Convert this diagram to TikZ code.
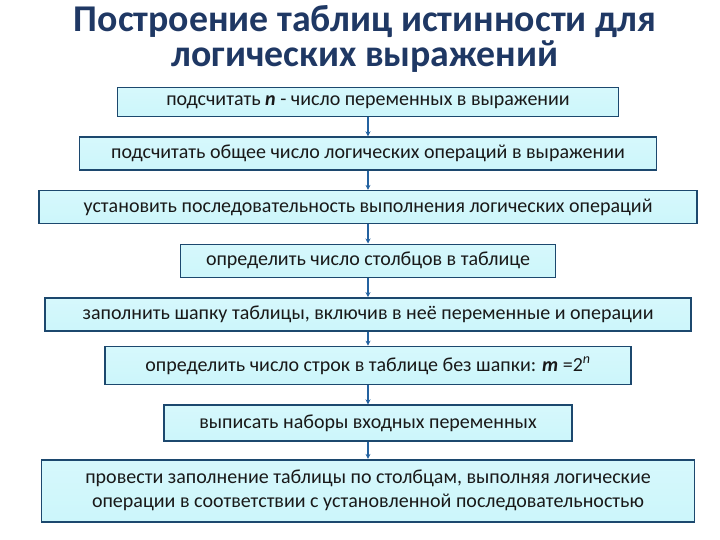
\documentclass[tikz,border=0pt]{standalone}
\usepackage{fontspec}
\setmainfont{Carlito}
\usepackage{tikz}
\usetikzlibrary{arrows.meta, positioning}

\definecolor{titleblue}{RGB}{31,56,100}
\definecolor{boxfill}{RGB}{204,246,251}
\definecolor{boxline}{RGB}{28,72,110}
\definecolor{arrowblue}{RGB}{36,98,160}

\begin{document}
\begin{tikzpicture}[
    node distance=19pt,
    block/.style={rectangle, draw=boxline, line width=1.6pt, top color=boxfill!80, bottom color=boxfill, text=black!90, font=\fontsize{20}{24}\selectfont, minimum height=33pt, inner xsep=2pt},
    arrow/.style={-{Stealth[length=5pt, width=5pt]}, line width=1.6pt, arrowblue}
]
\useasboundingbox (0,0) rectangle (720pt,-540pt);

% Title
\node[text=titleblue, font=\bfseries\fontsize{37.8}{35}\selectfont, align=center] (title) at (365pt,-39pt) {Построение таблиц истинности для\\логических выражений};

% Steps
\node[block, minimum width=501pt, minimum height=29pt] (s1) at (368pt,-102pt) {подсчитать \textbf{\textit{n}} - число переменных в выражении};
\node[block, below=of s1, minimum width=577pt] (s2) {подсчитать общее число логических операций в выражении};
\node[block, below=of s2, minimum width=658pt] (s3) {установить последовательность выполнения логических операций};
\node[block, below=of s3, minimum width=375pt] (s4) {определить число столбцов в таблице};
\node[block, below=of s4, minimum width=646pt] (s5) {заполнить шапку таблицы, включив в неё переменные и операции};
\node[block, below=14pt of s5, minimum width=526pt, minimum height=38pt] (s6) {определить число строк в таблице без шапки: \textbf{\textit{m}} =2\textsuperscript{\textit{n}}};
\node[block, below=of s6, minimum width=408pt, minimum height=36pt] (s7) {выписать наборы входных переменных};
\node[block, below=17pt of s7, minimum width=653pt, minimum height=62pt, align=center] (s8) {провести заполнение таблицы по столбцам, выполняя логические\\операции в соответствии с установленной последовательностью};

\draw[arrow] (s1) -- (s2);
\draw[arrow] (s2) -- (s3);
\draw[arrow] (s3) -- (s4);
\draw[arrow] (s4) -- (s5);
\draw[arrow] (s5) -- (s6);
\draw[arrow] (s6) -- (s7);
\draw[arrow] (s7) -- (s8);

\end{tikzpicture}
\end{document}
